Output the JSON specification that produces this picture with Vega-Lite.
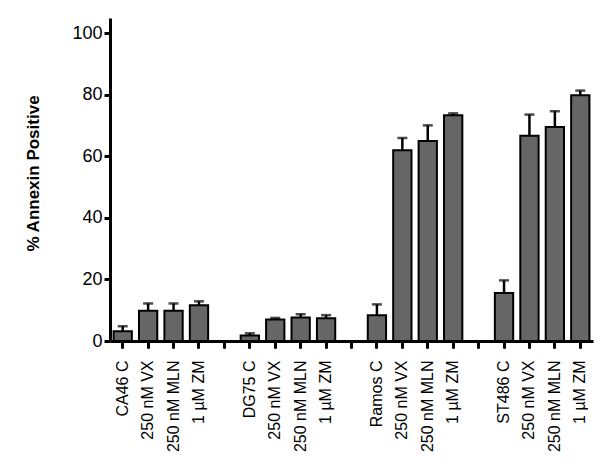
{
  "$schema": "https://vega.github.io/schema/vega-lite/v6.json",
  "width": 483,
  "height": 323,
  "autosize": "none",
  "padding": {"left": 110, "top": 18, "right": 19, "bottom": 130},
  "background": "white",
  "config": {
    "view": {"stroke": null},
    "font": "Liberation Sans"
  },
  "data": {
    "values": [
      {"id": "01|CA46 C", "value": 3.2, "err": 4.8},
      {"id": "02|250 nM VX", "value": 9.8, "err": 12.2},
      {"id": "03|250 nM MLN", "value": 9.8, "err": 12.2},
      {"id": "04|1 µM ZM", "value": 11.6, "err": 12.9},
      {"id": "06|DG75 C", "value": 1.8, "err": 2.5},
      {"id": "07|250 nM VX", "value": 7.0, "err": 7.5},
      {"id": "08|250 nM MLN", "value": 7.6, "err": 8.7},
      {"id": "09|1 µM ZM", "value": 7.4, "err": 8.4},
      {"id": "11|Ramos C", "value": 8.4, "err": 11.9},
      {"id": "12|250 nM VX", "value": 62.0, "err": 66.0},
      {"id": "13|250 nM MLN", "value": 65.0, "err": 70.1},
      {"id": "14|1 µM ZM", "value": 73.4, "err": 74.0},
      {"id": "16|ST486 C", "value": 15.6, "err": 19.7},
      {"id": "17|250 nM VX", "value": 66.7, "err": 73.6},
      {"id": "18|250 nM MLN", "value": 69.6, "err": 74.7},
      {"id": "19|1 µM ZM", "value": 79.9, "err": 81.4}
    ]
  },
  "encoding": {
    "x": {
      "field": "id",
      "type": "nominal",
      "sort": null,
      "scale": {
        "domain": ["01|CA46 C", "02|250 nM VX", "03|250 nM MLN", "04|1 µM ZM", "05|",
                   "06|DG75 C", "07|250 nM VX", "08|250 nM MLN", "09|1 µM ZM", "10|",
                   "11|Ramos C", "12|250 nM VX", "13|250 nM MLN", "14|1 µM ZM", "15|",
                   "16|ST486 C", "17|250 nM VX", "18|250 nM MLN", "19|1 µM ZM"],
        "paddingInner": 0.28,
        "paddingOuter": 0.14
      },
      "axis": {
        "title": null,
        "labelExpr": "split(datum.value, '|')[1]",
        "labelAngle": -90,
        "labelFontSize": 16,
        "labelColor": "black",
        "labelPadding": 13,
        "labelFont": "Liberation Sans",
        "domainColor": "black",
        "domainWidth": 3,
        "tickColor": "black",
        "tickWidth": 3,
        "tickSize": 6,
        "tickCap": "round"
      }
    }
  },
  "layer": [
    {
      "mark": {"type": "bar", "fill": "#666666", "stroke": "black", "strokeWidth": 2},
      "encoding": {
        "y": {
          "field": "value",
          "type": "quantitative",
          "scale": {"domain": [0, 105], "nice": false},
          "axis": {
            "title": "% Annexin Positive",
            "titleFontSize": 17,
            "titleFontWeight": "bold",
            "titleColor": "black",
            "titlePadding": 29,
            "titleY": 155,
            "values": [0, 20, 40, 60, 80, 100],
            "grid": false,
            "labelFontSize": 18,
            "labelColor": "black",
            "labelPadding": 2,
            "domainColor": "black",
            "domainWidth": 3,
            "tickColor": "black",
            "tickWidth": 3,
            "tickSize": 6
          }
        }
      }
    },
    {
      "mark": {"type": "rule", "color": "black", "strokeWidth": 2.5},
      "encoding": {
        "y": {"field": "value", "type": "quantitative"},
        "y2": {"field": "err"}
      }
    },
    {
      "mark": {"type": "tick", "color": "black", "thickness": 2.5, "size": 10},
      "encoding": {
        "y": {"field": "err", "type": "quantitative"}
      }
    }
  ]
}
